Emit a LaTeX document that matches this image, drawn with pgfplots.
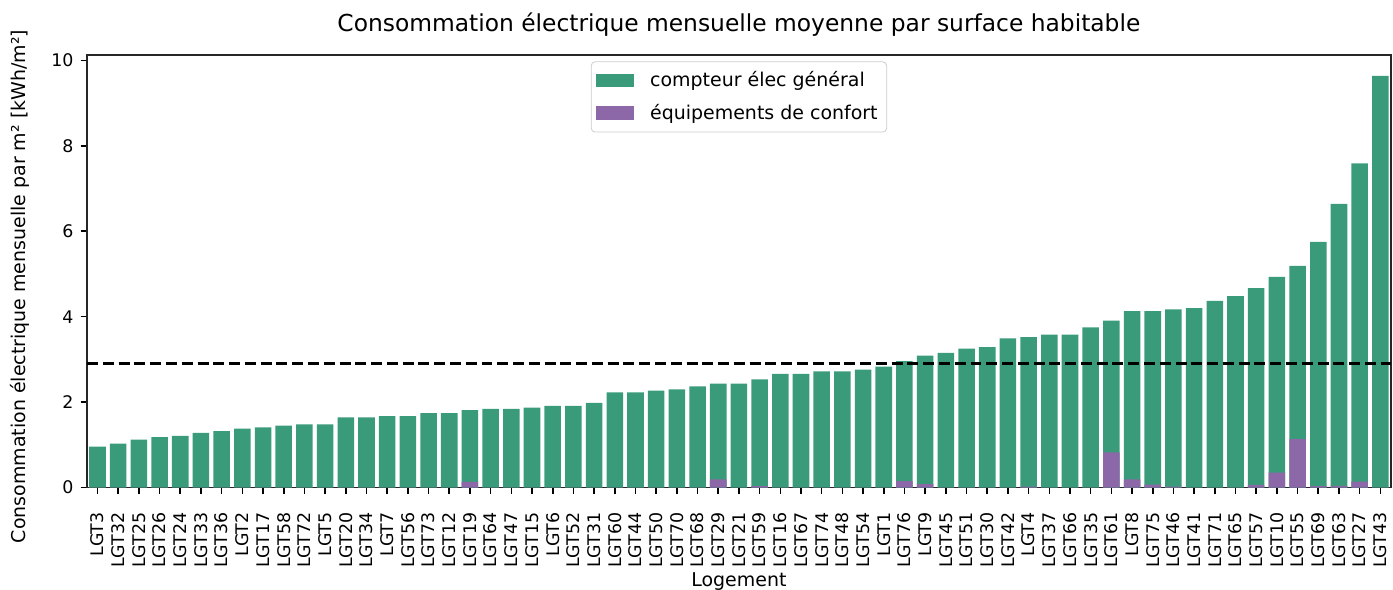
\documentclass[border=0pt]{standalone}
\usepackage{fontspec}
\setmainfont{DejaVu Sans}
\usepackage{pgfplots}
\usepackage{pgfplotstable}
\pgfplotsset{compat=1.18}
\definecolor{cgreen}{RGB}{58,155,122}
\definecolor{cpurple}{RGB}{141,104,168}
\pgfplotstableread{
idx label tot conf
0 LGT3 0.96 0
1 LGT32 1.03 0
2 LGT25 1.12 0
3 LGT26 1.18 0
4 LGT24 1.21 0
5 LGT33 1.28 0
6 LGT36 1.32 0
7 LGT2 1.38 0
8 LGT17 1.41 0
9 LGT58 1.45 0
10 LGT72 1.48 0
11 LGT5 1.48 0
12 LGT20 1.64 0
13 LGT34 1.64 0
14 LGT7 1.67 0
15 LGT56 1.67 0
16 LGT73 1.74 0
17 LGT12 1.74 0
18 LGT19 1.81 0.13
19 LGT64 1.84 0
20 LGT47 1.84 0
21 LGT15 1.87 0
22 LGT6 1.91 0
23 LGT52 1.91 0
24 LGT31 1.98 0
25 LGT60 2.23 0
26 LGT44 2.23 0
27 LGT50 2.27 0
28 LGT70 2.30 0
29 LGT68 2.37 0
30 LGT29 2.43 0.19
31 LGT21 2.43 0
32 LGT59 2.53 0.03
33 LGT16 2.66 0
34 LGT67 2.66 0
35 LGT74 2.72 0
36 LGT48 2.72 0
37 LGT54 2.76 0
38 LGT1 2.83 0
39 LGT76 2.96 0.15
40 LGT9 3.09 0.08
41 LGT45 3.15 0
42 LGT51 3.25 0
43 LGT30 3.29 0
44 LGT42 3.49 0
45 LGT4 3.52 0.02
46 LGT37 3.58 0
47 LGT66 3.58 0
48 LGT35 3.75 0
49 LGT61 3.91 0.82
50 LGT8 4.13 0.19
51 LGT75 4.13 0.07
52 LGT46 4.17 0.02
53 LGT41 4.20 0
54 LGT71 4.37 0
55 LGT65 4.48 0
56 LGT57 4.67 0.06
57 LGT10 4.93 0.35
58 LGT55 5.19 1.13
59 LGT69 5.75 0.03
60 LGT63 6.64 0.04
61 LGT27 7.59 0.14
62 LGT43 9.64 0
}\datatable
\pgfplotsset{mylegend/.style={legend image code/.code={\fill[##1, sharp corners] (0pt,-3.3pt) rectangle (19pt,3.3pt); \path (25pt,0pt);}}}
\begin{document}
\begin{tikzpicture}
\path[use as bounding box] (-43.65pt,-50.85pt) rectangle (654pt,244.15pt);
\begin{axis}[
  at={(0,0)}, anchor=south west,
  scale only axis,
  width=652.85pt, height=216.65pt,
  xmin=-0.5, xmax=62.5,
  ymin=0, ymax=10.13,
  xtick={0,...,62},
  xticklabels from table={\datatable}{label},
  ytick={0,2,4,6,8,10},
  tick pos=left,
  tick align=outside,
  major tick length=3.3pt,
  tick style={black, line width=0.8pt},
  axis line style={black!85, line width=0.8pt},
  xticklabel style={rotate=90, anchor=east, font=\fontsize{8.7}{10.4}\selectfont, inner sep=0pt, xshift=-9pt},
  yticklabel style={font=\fontsize{8.7}{10.4}\selectfont},
  /pgf/number format/assume math mode=true,
  title={Consommation électrique mensuelle moyenne par surface habitable},
  title style={at={(axis description cs:0.5,1)}, anchor=base, yshift=5.85pt, inner sep=0pt, font=\fontsize{11.7}{14}\selectfont},
  xlabel={Logement},
  xlabel style={at={(axis description cs:0.5,0)}, anchor=north, yshift=-42.35pt, inner sep=0pt, font=\fontsize{9.5}{11.4}\selectfont},
  ylabel={Consommation électrique mensuelle par m² [kWh/m²]},
  ylabel style={at={(axis description cs:0,0.4646)}, anchor=center, yshift=33.5pt, inner sep=0pt, font=\fontsize{9.5}{11.4}\selectfont},
  legend style={at={(0.5,0.985)}, anchor=north, draw=black!20, rounded corners=2pt, font=\fontsize{9.5}{11.4}\selectfont, row sep=3pt, inner xsep=2.5pt, inner ysep=3pt},
  legend cell align=left,
]
\addplot[ybar, bar width=0.8, bar shift=0pt, fill=cgreen, draw=none, mylegend] table[x=idx, y=tot] {\datatable};
\addlegendentry{compteur élec général}
\addplot[ybar, bar width=0.8, bar shift=0pt, fill=cpurple, draw=none, mylegend] table[x=idx, y=conf] {\datatable};
\addlegendentry{équipements de confort}
\addplot[black, line width=1.5pt, dash pattern=on 5.5pt off 2.4pt, forget plot] coordinates {(-0.5,2.91) (62.5,2.91)};
\end{axis}
\end{tikzpicture}
\end{document}
